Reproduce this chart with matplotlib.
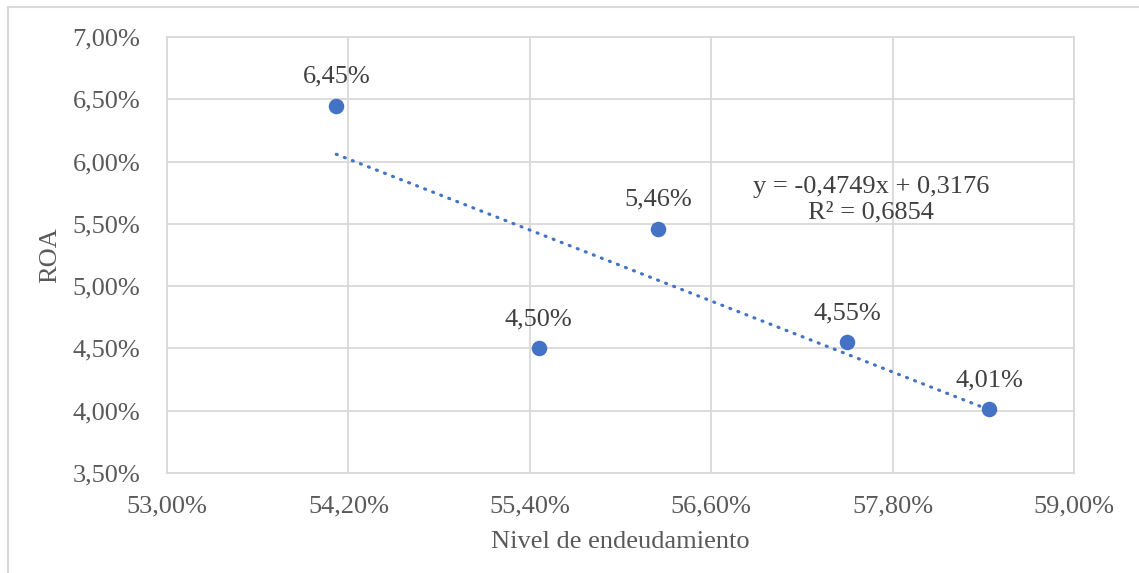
import matplotlib.pyplot as plt
from matplotlib.ticker import FuncFormatter
import numpy as np

plt.rcParams["font.family"] = ["Liberation Serif", "DejaVu Serif"]

# datos
endeudamiento = [0.5412, 0.5546, 0.5625, 0.5750, 0.5844]
roa = [0.0645, 0.0450, 0.0546, 0.0455, 0.0401]
etiquetas = ["6,45%", "4,50%", "5,46%", "4,55%", "4,01%"]
x_ticks = [0.53, 0.542, 0.554, 0.566, 0.578, 0.59]
y_ticks = [0.035, 0.04, 0.045, 0.05, 0.055, 0.06, 0.065, 0.07]
ecuacion = "y = -0,4749x + 0,3176\nR² = 0,6854"

AZUL = "#4472C4"
GRIS_TEXTO = "#595959"
GRIS_GRID = "#D9D9D9"
FS = 19

fig = plt.figure(figsize=(11.39, 5.73), dpi=100)
ax = fig.add_axes([167 / 1139, 1 - 473 / 573, (1074 - 167) / 1139, (473 - 37) / 573])

# marco exterior
fig.add_artist(plt.Line2D([8 / 1139, 8 / 1139], [0, 1 - 7 / 573],
                          transform=fig.transFigure, color=GRIS_GRID, lw=1.5))
fig.add_artist(plt.Line2D([8 / 1139, 1], [1 - 7 / 573, 1 - 7 / 573],
                          transform=fig.transFigure, color=GRIS_GRID, lw=1.5))

# linea de tendencia
pend, inter = -0.4749, 0.3176
xt = np.array([min(endeudamiento), max(endeudamiento)])
ax.plot(xt, pend * xt + inter, linestyle=(0, (0.3, 2.4)), color=AZUL, lw=2.3,
        dash_capstyle="round", zorder=2)

ax.scatter(endeudamiento, roa, s=125, color=AZUL, zorder=3, linewidths=0)

for x, y, t in zip(endeudamiento, roa, etiquetas):
    ax.annotate(t, (x, y), xytext=(0, 13), textcoords="offset points",
                ha="center", va="bottom", fontsize=FS, color="#404040")

ax.text(0.57656, 0.05692, ecuacion, ha="center", va="center", fontsize=FS,
        color="#404040", linespacing=1.2)

ax.set_xlim(0.53, 0.59)
ax.set_ylim(0.035, 0.07)
ax.set_xticks(x_ticks)
ax.set_yticks(y_ticks)

fmt = FuncFormatter(lambda v, p: f"{v * 100:.2f}%".replace(".", ","))
ax.xaxis.set_major_formatter(fmt)
ax.yaxis.set_major_formatter(fmt)

ax.tick_params(axis="both", length=0, labelsize=FS, colors=GRIS_TEXTO)
ax.tick_params(axis="x", pad=16)
ax.tick_params(axis="y", pad=19)

ax.grid(True, color=GRIS_GRID, lw=1.3)
ax.set_axisbelow(True)
for spine in ax.spines.values():
    spine.set_color(GRIS_GRID)
    spine.set_linewidth(1.3)

ax.set_xlabel("Nivel de endeudamiento", fontsize=FS, color=GRIS_TEXTO, labelpad=10)
ax.set_ylabel("ROA", fontsize=FS, color=GRIS_TEXTO, labelpad=8)

fig.savefig("out.png", dpi=100)
